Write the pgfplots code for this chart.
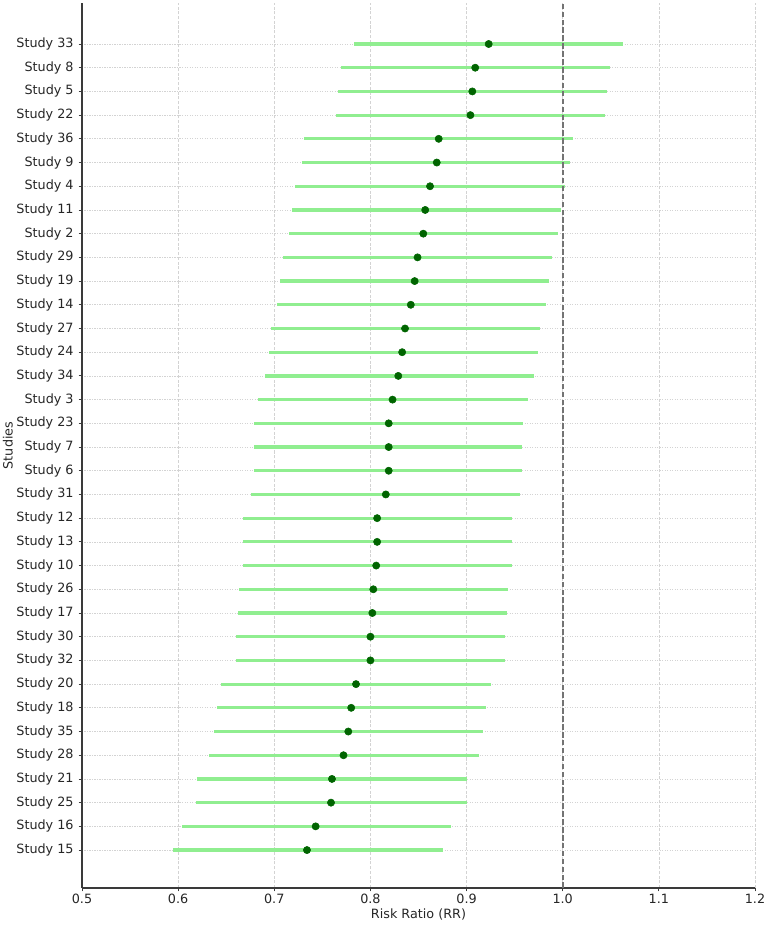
\documentclass[border=0pt]{standalone}
\usepackage{pgfplots}
\pgfplotsset{compat=1.18}
\usepackage{pgfplotstable}
\usepackage{fontspec}
\setmainfont{DejaVu Sans}
\definecolor{lgreen}{HTML}{90EE90}
\definecolor{dgreen}{HTML}{006400}
\definecolor{gridc}{HTML}{D3D3D3}
\definecolor{spine}{HTML}{3A3A3A}

\pgfplotstableread{
idx est lo hi
0 0.734 0.595 0.875
1 0.743 0.604 0.884
2 0.759 0.619 0.900
3 0.760 0.620 0.900
4 0.772 0.632 0.913
5 0.777 0.637 0.917
6 0.780 0.640 0.920
7 0.785 0.645 0.925
8 0.800 0.660 0.940
9 0.800 0.660 0.940
10 0.802 0.662 0.942
11 0.803 0.663 0.943
12 0.806 0.667 0.947
13 0.807 0.667 0.947
14 0.807 0.667 0.947
15 0.816 0.676 0.956
16 0.819 0.679 0.958
17 0.819 0.679 0.958
18 0.819 0.679 0.959
19 0.823 0.683 0.964
20 0.829 0.690 0.970
21 0.833 0.694 0.974
22 0.836 0.697 0.976
23 0.842 0.703 0.983
24 0.846 0.706 0.986
25 0.849 0.709 0.989
26 0.855 0.715 0.995
27 0.857 0.718 0.998
28 0.862 0.722 1.002
29 0.869 0.729 1.008
30 0.871 0.731 1.011
31 0.904 0.764 1.044
32 0.906 0.766 1.046
33 0.909 0.769 1.049
34 0.923 0.783 1.063
}\datatable

\begin{document}
\begin{tikzpicture}
\useasboundingbox (0,0) rectangle (552.24pt,666.72pt);
\begin{axis}[
  at={(59.04pt,27.36pt)}, anchor=south west,
  scale only axis,
  width=484.56pt, height=637.2pt,
  xmin=0.5, xmax=1.2,
  ymin=-1.6, ymax=35.73,
  axis x line*=bottom, axis y line*=left,
  axis line style={spine, line width=0.85pt, -},
  xtick={0.5,0.6,...,1.2},
  xticklabels={0.5,0.6,0.7,0.8,0.9,1.0,1.1,1.2},
  ytick={0,...,34},
  yticklabels={Study 15,Study 16,Study 25,Study 21,Study 28,Study 35,Study 18,Study 20,Study 32,Study 30,Study 17,Study 26,Study 10,Study 13,Study 12,Study 31,Study 6,Study 7,Study 23,Study 3,Study 34,Study 24,Study 27,Study 14,Study 19,Study 29,Study 2,Study 11,Study 4,Study 9,Study 36,Study 22,Study 5,Study 8,Study 33},
  tick align=outside,
  major tick length=2.5pt,
  tick style={spine, line width=0.6pt},
  xtick pos=bottom, ytick pos=left,
  /pgf/number format/assume math mode=true,
  ticklabel style={font=\fontsize{9.2}{11}\selectfont, text=black!85},
  xticklabel style={yshift=1.5pt},
  every axis x label/.style={at={(axis description cs:0.5,-0.0294)}, anchor=center, font=\fontsize{9.2}{11}\selectfont, text=black!85},
  every axis y label/.style={at={(axis description cs:-0.11,0.5)}, anchor=center, rotate=90, font=\fontsize{9.2}{11}\selectfont, text=black!85},
  xlabel={Risk Ratio (RR)},
  ylabel={Studies},
  xmajorgrids, ymajorgrids,
  x grid style={gridc, line width=0.5pt, dash pattern=on 2.2pt off 1.2pt},
  y grid style={gridc, line width=0.5pt, dash pattern=on 1pt off 0.8pt},
  clip=false,
]
\addplot[draw=none, mark=none,
  error bars/.cd, x dir=both, x explicit, error mark=none,
  error bar style={lgreen, line width=2.3pt}]
  table[x=est, y=idx, x error plus expr=\thisrow{hi}-\thisrow{est}, x error minus expr=\thisrow{est}-\thisrow{lo}] {\datatable};
\draw[black!55, line width=1.3pt, dash pattern=on 4pt off 1.7pt] (axis cs:1.0,-1.6) -- (axis cs:1.0,35.73);
\addplot[only marks, mark=*, mark size=2.6pt, dgreen, mark options={draw=dgreen, fill=dgreen}]
  table[x=est, y=idx] {\datatable};
\end{axis}
\end{tikzpicture}
\end{document}
